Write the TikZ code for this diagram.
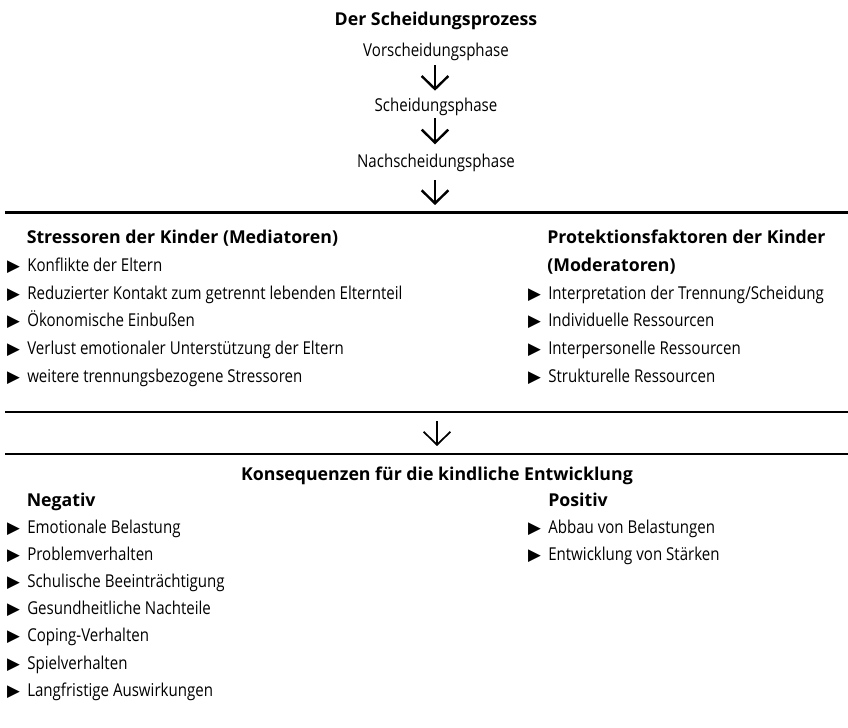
\documentclass[tikz,border=0pt]{standalone}
\usepackage{fontspec}
\setmainfont{Open Sans}[FakeStretch=0.85,BoldFeatures={FakeStretch=1.0}]
\newfontfamily\symfont{DejaVu Sans}
\usetikzlibrary{arrows.meta,calc}
\newcommand\bul{\llap{{\symfont\fontsize{12.5pt}{12.5pt}\selectfont ▶}\hspace{5.5pt}}}
\tikzset{
  txt/.style={inner sep=0pt, anchor=base west, font=\fontsize{13.3pt}{15pt}\selectfont},
  ctxt/.style={txt, anchor=base},
  hd/.style={txt, font=\fontsize{13.3pt}{15pt}\selectfont\bfseries},
  chd/.style={hd, anchor=base},
  thickrule/.style={line width=2.25pt},
  rule/.style={line width=1.5pt},
  arrA/.style={line width=1.8pt, -{Straight Barb[length=9.75pt,width=20pt]}},
  arrB/.style={line width=1.3pt, -{Straight Barb[length=9.75pt,width=20pt]}}
}
\begin{document}
\begin{tikzpicture}[x=0.75pt,y=-0.75pt]
\useasboundingbox (0,0) rectangle (848,727);
% top: process
\node[chd] (title) at (436,26) {Der Scheidungsprozess};
\node[ctxt] (vor) at (436,56.7) {Vorscheidungsphase};
\node[ctxt] (sch) at (436,111.7) {Scheidungsphase};
\node[ctxt] (nach) at (436,167.3) {Nachscheidungsphase};
\draw[arrA] ($(vor.base)+(-1,8.5)$) -- ($(sch.base)+(-1,-21)$);
\draw[arrA] ($(sch.base)+(-1,6.5)$) -- ($(nach.base)+(-1,-23)$);
% rules
\coordinate (r1w) at (5,212); \coordinate (r1e) at (848,212);
\coordinate (r2w) at (5,412.3); \coordinate (r2e) at (848,412.3);
\coordinate (r3w) at (5,454); \coordinate (r3e) at (848,454);
\draw[thickrule] (r1w) -- (r1e);
\draw[rule] (r2w) -- (r2e);
\draw[rule] (r3w) -- (r3e);
\coordinate (r1) at (435,212);
\coordinate (r2) at (437,412.3);
\coordinate (r3) at (437,454);
\draw[arrA] ($(nach.base)+(-1,12.5)$) -- ($(r1)+(0,-7)$);
\draw[arrB] ($(r2)+(0,8.5)$) -- ($(r3)+(0,-8)$);
% stressors
\node[hd] (sh) at (26.5,243) {Stressoren der Kinder (Mediatoren)};
\node[txt] (s1) at (27,271.7) {\bul Konflikte der Eltern};
\node[txt] (s2) at (27,299.3) {\bul Reduzierter Kontakt zum getrennt lebenden Elternteil};
\node[txt] (s3) at (27,326.9) {\bul Ökonomische Einbußen};
\node[txt] (s4) at (27,354.5) {\bul Verlust emotionaler Unterstützung der Eltern};
\node[txt] (s5) at (27,382.1) {\bul weitere trennungsbezogene Stressoren};
% protection
\node[hd] (ph1) at (547,243) {Protektionsfaktoren der Kinder};
\node[hd] (ph2) at (547,271.7) {(Moderatoren)};
\node[txt] (p1) at (548,299.3) {\bul Interpretation der Trennung/Scheidung};
\node[txt] (p2) at (548,326.9) {\bul Individuelle Ressourcen};
\node[txt] (p3) at (548,354.5) {\bul Interpersonelle Ressourcen};
\node[txt] (p4) at (548,382.1) {\bul Strukturelle Ressourcen};
% consequences
\node[chd] (kh) at (437,480) {Konsequenzen für die kindliche Entwicklung};
\node[hd] (nh) at (26.5,506) {Negativ};
\node[txt] (n1) at (27,533) {\bul Emotionale Belastung};
\node[txt] (n2) at (27,560.2) {\bul Problemverhalten};
\node[txt] (n3) at (27,587.4) {\bul Schulische Beeinträchtigung};
\node[txt] (n4) at (27,614.6) {\bul Gesundheitliche Nachteile};
\node[txt] (n5) at (27,641.8) {\bul Coping-Verhalten};
\node[txt] (n6) at (27,669) {\bul Spielverhalten};
\node[txt] (n7) at (27,696.2) {\bul Langfristige Auswirkungen};
\node[hd] (poh) at (548,506) {Positiv};
\node[txt] (po1) at (548,533) {\bul Abbau von Belastungen};
\node[txt] (po2) at (548,560.2) {\bul Entwicklung von Stärken};
\end{tikzpicture}
\end{document}
